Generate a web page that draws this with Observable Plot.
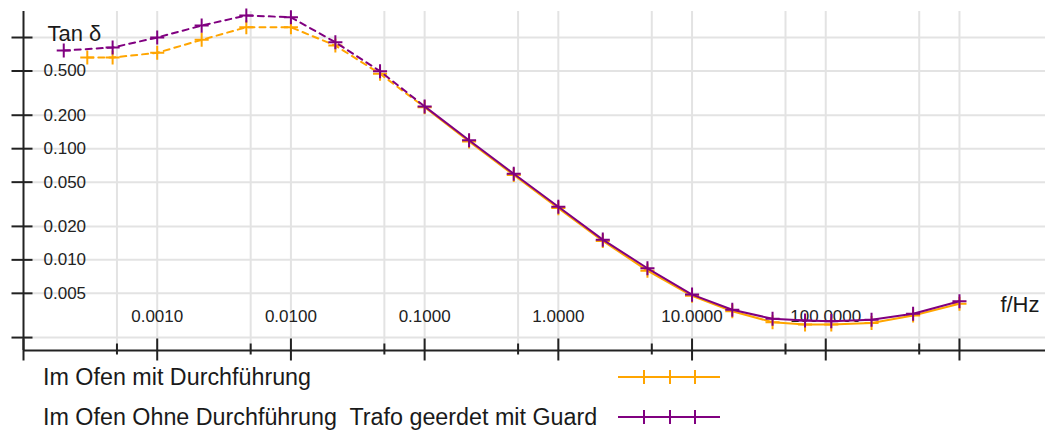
<!DOCTYPE html>
<html><head><meta charset="utf-8">
<script src="https://cdn.jsdelivr.net/npm/d3@7"></script>
<script src="https://cdn.jsdelivr.net/npm/@observablehq/plot@0.6"></script>
<style>
body{margin:0;background:#fff;font-family:"Liberation Sans",Arial,sans-serif;}
#wrap{position:relative;width:1045px;height:430px;overflow:hidden;}
#wrap svg.plot{position:absolute;left:0;top:0;}
.leg{position:absolute;left:43px;font-size:23.3px;color:#1a1a1a;line-height:26px;white-space:pre;}
.sw{position:absolute;left:612px;}
</style></head><body><div id="wrap"></div>
<script>
// Series names
const seriesNames = ["Im Ofen mit Durchführung", "Im Ofen Ohne Durchführung  Trafo geerdet mit Guard"];
const seriesColors = ["#ffa500", "#800080"];

// Orange series: frequency (Hz) and tan delta
const freqOrange = [0.0003, 0.000464, 0.001, 0.00215, 0.00464, 0.01, 0.0215, 0.0464, 0.1, 0.215, 0.464, 1, 2.15, 4.64, 10, 20, 40, 70, 110, 220, 450, 1000];
const tanOrange  = [0.661, 0.661, 0.729, 0.953, 1.237, 1.237, 0.847, 0.472, 0.236, 0.116, 0.058, 0.0292, 0.0148, 0.0080, 0.00475, 0.00345, 0.00275, 0.00262, 0.00262, 0.00270, 0.00316, 0.00403];

// Purple series
const freqPurple = [0.0002, 0.000464, 0.001, 0.00215, 0.00464, 0.01, 0.0215, 0.0464, 0.1, 0.215, 0.464, 1, 2.15, 4.64, 10, 20, 40, 70, 110, 220, 450, 1000];
const tanPurple  = [0.764, 0.813, 1.0, 1.28, 1.58, 1.52, 0.907, 0.498, 0.240, 0.119, 0.0595, 0.0300, 0.0152, 0.0084, 0.00487, 0.00356, 0.00295, 0.00285, 0.00281, 0.00289, 0.00327, 0.00425];

// Dashed below this frequency, solid above
const dashLimit = 0.1;

// Axes
const xDomain = [0.0001, 4400];
const yDomain = [0.00153, 1.714];
const xGrid = [0.0005, 0.001, 0.005, 0.01, 0.05, 0.1, 0.5, 1, 5, 10, 50, 100, 500, 1000];
const xMajorTicks = [0.0001, 0.001, 0.01, 0.1, 1, 10, 100, 1000];
const xMinorTicks = [0.0005, 0.005, 0.05, 0.5, 5, 50, 500];
const xLabelTicks = [0.001, 0.01, 0.1, 1, 10, 100];
const xLabelText = ["0.0010", "0.0100", "0.1000", "1.0000", "10.0000", "100.0000"];
const yTicks = [1, 0.5, 0.2, 0.1, 0.05, 0.02, 0.01, 0.005, 0.002];
const yLabelTicks = [0.5, 0.2, 0.1, 0.05, 0.02, 0.01, 0.005];
const yLabelText = ["0.500", "0.200", "0.100", "0.050", "0.020", "0.010", "0.005"];
const yTitle = "Tan δ";
const xTitle = "f/Hz";

const orange = freqOrange.map((f, i) => ({f, v: tanOrange[i]}));
const purple = freqPurple.map((f, i) => ({f, v: tanPurple[i]}));

const axisColor = "#222";
const gridColor = "#e3e3e3";
const labelColor = "#222";

const vMajor = {draw(c) { c.moveTo(0, -12); c.lineTo(0, 10); }};
const vMinor = {draw(c) { c.moveTo(0, -7); c.lineTo(0, 4); }};
const hTick = {draw(c) { c.moveTo(-12, 0); c.lineTo(9, 0); }};

function seriesMarks(data, color) {
  return [
    Plot.line(data.filter(d => d.f <= dashLimit), {x: "f", y: "v", stroke: color, strokeWidth: 2, strokeDasharray: "6,5"}),
    Plot.line(data.filter(d => d.f >= dashLimit), {x: "f", y: "v", stroke: color, strokeWidth: 2}),
    Plot.dot(data, {x: "f", y: "v", symbol: "plus", r: 4.6, stroke: color, strokeWidth: 2})
  ];
}

const chart = Plot.plot({
  width: 1045, height: 360,
  marginLeft: 23, marginRight: 0, marginTop: 11, marginBottom: 10,
  style: {fontFamily: '"Liberation Sans", Arial, sans-serif', background: "transparent", overflow: "visible"},
  x: {type: "log", domain: xDomain, axis: null},
  y: {type: "log", domain: yDomain, axis: null},
  marks: [
    Plot.ruleX(xGrid, {stroke: gridColor, strokeWidth: 2}),
    Plot.ruleY(yTicks, {stroke: gridColor, strokeWidth: 2}),
    Plot.text(xLabelTicks, {x: d => d, frameAnchor: "bottom", lineAnchor: "middle", dy: -34, text: (d, i) => xLabelText[i], fontSize: 17, fill: labelColor}),
    Plot.text(yLabelTicks, {y: d => d, frameAnchor: "left", lineAnchor: "middle", dx: 20, textAnchor: "start", text: (d, i) => yLabelText[i], fontSize: 17, fill: labelColor}),
    Plot.text([yTitle], {frameAnchor: "top-left", lineAnchor: "middle", dx: 24, dy: 22, textAnchor: "start", fontSize: 22, fill: "#1a1a1a"}),
    Plot.text([xTitle], {frameAnchor: "bottom-right", lineAnchor: "middle", dx: -6, dy: -46, textAnchor: "end", fontSize: 22, fill: "#1a1a1a"}),
    Plot.ruleY([yDomain[0]], {stroke: axisColor, strokeWidth: 2}),
    Plot.ruleX([xDomain[0]], {stroke: axisColor, strokeWidth: 2}),
    Plot.dot(xMajorTicks, {x: d => d, y: () => yDomain[0], symbol: vMajor, fill: "none", stroke: axisColor, strokeWidth: 2}),
    Plot.dot(xMinorTicks, {x: d => d, y: () => yDomain[0], symbol: vMinor, fill: "none", stroke: axisColor, strokeWidth: 2}),
    Plot.dot(yTicks, {y: d => d, x: () => xDomain[0], symbol: hTick, fill: "none", stroke: axisColor, strokeWidth: 2}),
    ...seriesMarks(orange, seriesColors[0]),
    ...seriesMarks(purple, seriesColors[1])
  ]
});
chart.classList.add("plot");
const wrap = document.getElementById("wrap");
wrap.appendChild(chart);

// Legend
const legTops = [364, 404];
seriesNames.forEach((name, i) => {
  const t = document.createElement("div");
  t.className = "leg";
  t.style.top = legTops[i] + "px";
  t.textContent = name;
  wrap.appendChild(t);
  const ns = "http://www.w3.org/2000/svg";
  const s = document.createElementNS(ns, "svg");
  s.setAttribute("class", "sw");
  s.setAttribute("width", 112); s.setAttribute("height", 20);
  s.style.top = (legTops[i] + 3) + "px";
  const c = seriesColors[i];
  const p = document.createElementNS(ns, "path");
  p.setAttribute("d", "M6,10H108 M32,3V17 M58,3V17 M83,3V17");
  p.setAttribute("stroke", c); p.setAttribute("stroke-width", 2); p.setAttribute("fill", "none");
  s.appendChild(p);
  wrap.appendChild(s);
});
</script></body></html>
